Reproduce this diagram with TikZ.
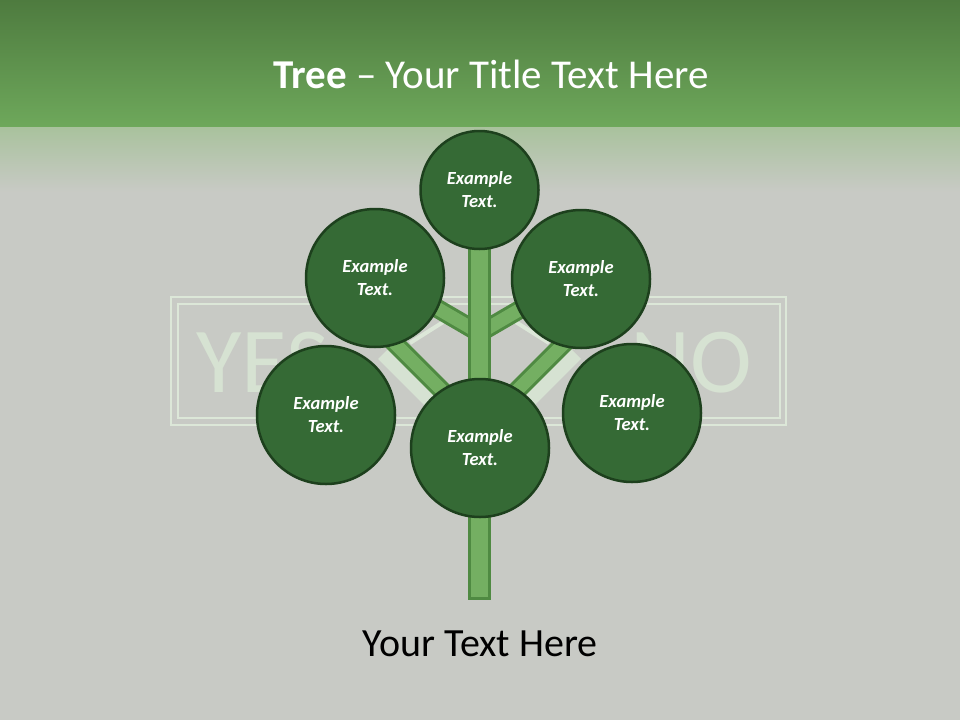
\documentclass[tikz,border=0pt]{standalone}
\usepackage{fontspec}
\setmainfont{Carlito}
\usetikzlibrary{positioning}

\definecolor{leafgreen}{HTML}{356A35}
\definecolor{leafedge}{HTML}{1D401D}
\definecolor{stemgreen}{HTML}{74AF62}
\definecolor{stemedge}{HTML}{4F8A42}
\definecolor{signpale}{HTML}{D6E2D2}
\definecolor{signline}{HTML}{DCE7D8}
\definecolor{slidegrey}{HTML}{C8CAC5}
\definecolor{bandtop}{HTML}{4E7B3F}
\definecolor{bandlow}{HTML}{6EA85B}
\definecolor{bandfade}{HTML}{A9C29D}

\tikzset{
  leaf/.style={circle,fill=leafgreen,draw=leafedge,line width=2.5pt,
    minimum size=#1,inner sep=0pt,text=white,align=center,
    font=\fontsize{18.5}{23}\selectfont\bfseries\itshape},
  signtext/.style={inner sep=0pt,text=signpale,font=\fontsize{93}{93}\selectfont},
  branchedge/.style={stemedge,line width=19pt},
  branchfill/.style={stemgreen,line width=13pt}
}

\begin{document}
\begin{tikzpicture}[x=1pt,y=-1pt]
  \useasboundingbox (0,0) rectangle (960,720);
  % background
  \fill[slidegrey] (0,0) rectangle (960,720);
  \shade[top color=bandtop,bottom color=bandlow] (0,0) rectangle (960,127);
  \shade[top color=bandfade,bottom color=slidegrey] (0,127) rectangle (960,192);
  % sign behind the tree
  \draw[signline,line width=2.5pt] (171,297) rectangle (786,425);
  \draw[signline,line width=2pt] (178,304) rectangle (780,418);
  \node[signtext,anchor=base west] (yes) at (196,392) {YES};
  \node[signtext,anchor=base east] (no) at (752,392) {NO};
  \draw[signpale,line width=14pt] (383,354) -- (440,411);
  \draw[signpale,line width=14pt] (576,354) -- (519,411);
  \draw[signline,line width=4pt] (410,343) -- (448,319);
  \draw[signline,line width=4pt] (549,343) -- (511,319);
  % branches
  \coordinate (upfork) at (479.5,333);
  \coordinate (lowfork) at (479.5,428);
  \coordinate (ulend) at (428,303);
  \coordinate (urend) at (531,303);
  \coordinate (llend) at (392,340.5);
  \coordinate (lrend) at (567,340.5);
  \foreach \a/\b in {upfork/ulend,upfork/urend,lowfork/llend,lowfork/lrend}{
    \draw[branchedge] (\a) -- (\b);
    \draw[branchfill] (\a) -- (\b);
  }
  % trunk
  \draw[fill=stemgreen,draw=stemedge,line width=3pt] (469.5,240) rectangle (489.5,598.5);
  % leaves
  \node[leaf=118pt] (top) at (479.5,190) {Example\\Text.};
  \node[leaf=138pt] (upleft) at (375,278) {Example\\Text.};
  \node[leaf=138pt] (upright) at (581,279) {Example\\Text.};
  \node[leaf=138pt] (lowleft) at (326,415) {Example\\Text.};
  \node[leaf=138pt] (lowright) at (632,413) {Example\\Text.};
  \node[leaf=138pt] (bottom) at (480,448) {Example\\Text.};
  % texts
  \node[anchor=base,text=white,font=\fontsize{41}{48}\selectfont] (title) at (491,88)
    {\textbf{Tree} -- Your Title Text Here};
  \node[anchor=base,text=black,font=\fontsize{40}{48}\selectfont] (caption) at (480,656)
    {Your Text Here};
\end{tikzpicture}
\end{document}
